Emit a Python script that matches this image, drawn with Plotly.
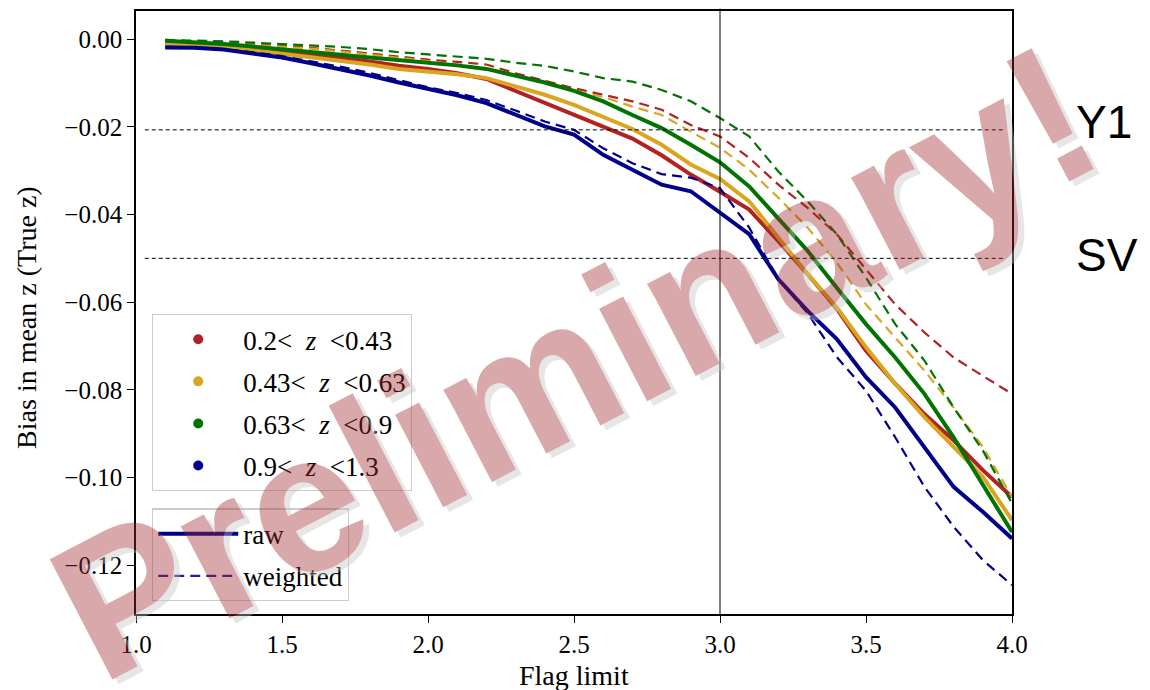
import plotly.graph_objects as go

# Flag-limit cut values (x axis)
flag_limit = [1.1, 1.2, 1.3, 1.4, 1.5, 1.6, 1.7, 1.8, 1.9, 2.0,
              2.1, 2.2, 2.3, 2.4, 2.5, 2.6, 2.7, 2.8, 2.9, 3.0,
              3.1, 3.2, 3.3, 3.4, 3.5, 3.6, 3.7, 3.8, 3.9, 4.0]

# Bias in mean z per redshift bin: raw (solid) and weighted (dashed)
raw_bin1 = [-0.0009, -0.0012, -0.0016, -0.0022, -0.0028, -0.0035, -0.0042, -0.0051, -0.0061, -0.0068,
            -0.0078, -0.0091, -0.0118, -0.0144, -0.0173, -0.0199, -0.0227, -0.0265, -0.0309, -0.0348,
            -0.0389, -0.0461, -0.0536, -0.0615, -0.0711, -0.0786, -0.0855, -0.0915, -0.0983, -0.1044]
wgt_bin1 = [-0.0003, -0.0005, -0.0008, -0.0012, -0.0016, -0.0020, -0.0026, -0.0033, -0.0040, -0.0047,
            -0.0052, -0.0058, -0.0078, -0.0095, -0.0112, -0.0127, -0.0142, -0.0161, -0.0196, -0.0222,
            -0.0271, -0.0332, -0.0385, -0.0445, -0.0525, -0.0605, -0.0669, -0.0726, -0.0768, -0.0809]

raw_bin2 = [-0.0010, -0.0013, -0.0018, -0.0025, -0.0033, -0.0041, -0.0049, -0.0058, -0.0068, -0.0074,
            -0.0080, -0.0089, -0.0107, -0.0127, -0.0150, -0.0177, -0.0205, -0.0241, -0.0286, -0.0319,
            -0.0370, -0.0453, -0.0536, -0.0612, -0.0703, -0.0786, -0.0862, -0.0930, -0.0998, -0.1097]
wgt_bin2 = [-0.0004, -0.0006, -0.0009, -0.0013, -0.0017, -0.0022, -0.0028, -0.0035, -0.0042, -0.0050,
            -0.0058, -0.0068, -0.0082, -0.0102, -0.0118, -0.0132, -0.0154, -0.0173, -0.0211, -0.0248,
            -0.0298, -0.0362, -0.0430, -0.0510, -0.0605, -0.0680, -0.0756, -0.0840, -0.0930, -0.1044]

raw_bin3 = [-0.0004, -0.0007, -0.0011, -0.0017, -0.0024, -0.0030, -0.0036, -0.0042, -0.0048, -0.0053,
            -0.0060, -0.0068, -0.0083, -0.0099, -0.0118, -0.0142, -0.0173, -0.0203, -0.0241, -0.0281,
            -0.0336, -0.0408, -0.0483, -0.0567, -0.0650, -0.0726, -0.0809, -0.0908, -0.1014, -0.1124]
wgt_bin3 = [-0.0002, -0.0003, -0.0005, -0.0008, -0.0011, -0.0014, -0.0018, -0.0023, -0.0030, -0.0035,
            -0.0040, -0.0045, -0.0054, -0.0061, -0.0074, -0.0089, -0.0097, -0.0116, -0.0142, -0.0180,
            -0.0222, -0.0302, -0.0370, -0.0445, -0.0544, -0.0650, -0.0733, -0.0840, -0.0938, -0.1059]

raw_bin4 = [-0.0019, -0.0020, -0.0024, -0.0032, -0.0042, -0.0055, -0.0068, -0.0083, -0.0099, -0.0114,
            -0.0128, -0.0146, -0.0172, -0.0199, -0.0218, -0.0264, -0.0298, -0.0332, -0.0347, -0.0395,
            -0.0445, -0.0548, -0.0620, -0.0684, -0.0771, -0.0840, -0.0930, -0.1021, -0.1078, -0.1139]
wgt_bin4 = [-0.0017, -0.0019, -0.0023, -0.0030, -0.0039, -0.0051, -0.0063, -0.0077, -0.0093, -0.0110,
            -0.0123, -0.0139, -0.0163, -0.0188, -0.0207, -0.0249, -0.0283, -0.0308, -0.0316, -0.0340,
            -0.0430, -0.0548, -0.0625, -0.0725, -0.0802, -0.0908, -0.1021, -0.1112, -0.1188, -0.1245]

bin_labels = ["0.2&lt;  <i>z</i>  &lt;0.43", "0.43&lt;  <i>z</i>  &lt;0.63",
              "0.63&lt;  <i>z</i>  &lt;0.9", "0.9&lt;  <i>z</i>  &lt;1.3"]
bin_colors = ["#b22222", "#daa520", "#007300", "#00008b"]
raw_series = [raw_bin1, raw_bin2, raw_bin3, raw_bin4]
wgt_series = [wgt_bin1, wgt_bin2, wgt_bin3, wgt_bin4]

# Survey requirement levels
y1_level = -0.0207
sv_level = -0.050
flag_cut = 3.0

x_ticks = [1.0, 1.5, 2.0, 2.5, 3.0, 3.5, 4.0]
y_ticks = [0.0, -0.02, -0.04, -0.06, -0.08, -0.10, -0.12]
y_tick_text = ["0.00", "\u22120.02", "\u22120.04", "\u22120.06", "\u22120.08", "\u22120.10", "\u22120.12"]

SERIF = "Liberation Serif"

fig = go.Figure()

for raw, wgt, col in zip(raw_series, wgt_series, bin_colors):
    fig.add_trace(go.Scatter(x=flag_limit, y=wgt, mode="lines", showlegend=False,
                             line=dict(color=col, width=2.2, dash="10px,6px")))
    fig.add_trace(go.Scatter(x=flag_limit, y=raw, mode="lines", showlegend=False,
                             line=dict(color=col, width=4)))

# Legend for redshift bins (dots)
for i, (lab, col) in enumerate(zip(bin_labels, bin_colors)):
    fig.add_trace(go.Scatter(x=[None], y=[None], mode="markers", name=lab,
                             marker=dict(color=col, size=10),
                             legend="legend", legendgroup=f"bin{i}"))

# Legend for line styles
fig.add_trace(go.Scatter(x=[None], y=[None], mode="lines", name="raw",
                         line=dict(color="#00008b", width=4),
                         legend="legend2", legendgroup="raw"))
fig.add_trace(go.Scatter(x=[None], y=[None], mode="lines", name="weighted",
                         line=dict(color="#2020a0", width=2.2, dash="10px,6px"),
                         legend="legend2", legendgroup="wgt"))

shapes = [
    dict(type="line", xref="paper", yref="y", x0=0.01, x1=0.99, y0=y1_level, y1=y1_level,
         line=dict(color="black", width=1, dash="4px,3px")),
    dict(type="line", xref="paper", yref="y", x0=0.01, x1=0.99, y0=sv_level, y1=sv_level,
         line=dict(color="black", width=1, dash="4px,3px")),
    dict(type="line", xref="x", yref="paper", x0=flag_cut, x1=flag_cut, y0=0, y1=1.004,
         line=dict(color="black", width=1)),
]

annotations = [
    dict(text="Y1", xref="paper", yref="paper", x=1.0708, y=0.8166, xanchor="left", yanchor="middle",
         showarrow=False, font=dict(family="Liberation Sans", size=46, color="black")),
    dict(text="SV", xref="paper", yref="paper", x=1.0708, y=0.5956, xanchor="left", yanchor="middle",
         showarrow=False, font=dict(family="Liberation Sans", size=46, color="black")),
    dict(text="Flag limit", xref="paper", yref="paper", x=0.5, y=-0.1025, xanchor="center", yanchor="middle",
         showarrow=False, font=dict(family=SERIF, size=28, color="black")),
    dict(text="Bias in mean z (True z)", xref="paper", yref="paper", x=-0.1245, y=0.4926,
         xanchor="center", yanchor="middle", textangle=-90,
         showarrow=False, font=dict(family=SERIF, size=28, color="black")),
    dict(text="<b>Preliminary!</b>", xref="paper", yref="paper", x=0.5011, y=0.418,
         xanchor="center", yanchor="middle", textangle=-27.5, showarrow=False, opacity=0.4,
         font=dict(family="Liberation Sans", size=197, color="rgb(160,40,45)",
                   shadow="3px 7px 0px rgb(195,195,195)")),
]

legend_common = dict(xanchor="left", yanchor="top", bgcolor="rgba(255,255,255,0.8)",
                     bordercolor="#cccccc", borderwidth=1.2, itemwidth=80,
                     traceorder="grouped", tracegroupgap=4,
                     font=dict(family=SERIF, size=27, color="black"))

fig.update_layout(
    width=1150, height=690,
    margin=dict(l=136, r=138, t=9, b=76),
    paper_bgcolor="white", plot_bgcolor="white",
    shapes=shapes, annotations=annotations,
    legend=dict(x=0.0183, y=0.4975, **legend_common),
    legend2=dict(x=0.0183, y=0.175, **legend_common),
    xaxis=dict(range=[1.0, 4.0], tickvals=x_ticks, ticktext=[f"{v:.1f}" for v in x_ticks],
               showgrid=False, zeroline=False, showline=True, mirror=True,
               linecolor="black", linewidth=1.6, ticks="outside", ticklen=7, tickwidth=1.4,
               tickcolor="black", tickfont=dict(family=SERIF, size=25, color="black")),
    yaxis=dict(range=[-0.1311, 0.0064], tickvals=y_ticks, ticktext=y_tick_text,
               showgrid=False, zeroline=False, showline=True, mirror=True,
               linecolor="black", linewidth=1.6, ticks="outside", ticklen=7, tickwidth=1.4,
               tickcolor="black", tickfont=dict(family=SERIF, size=25, color="black")),
)

fig.write_html("out.html")
